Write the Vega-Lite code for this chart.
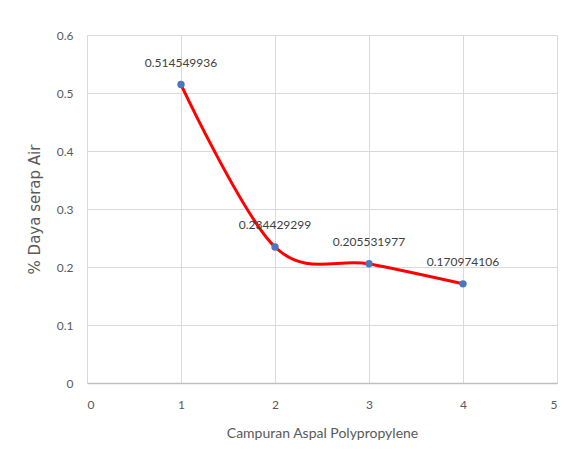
{
  "$schema": "https://vega.github.io/schema/vega-lite/v6.json",
  "autosize": "none",
  "width": 470,
  "height": 348,
  "padding": {"left": 87, "top": 35, "right": 13, "bottom": 92},
  "background": "white",
  "config": {
    "view": {"stroke": null},
    "font": "Lato",
    "axis": {"labelColor": "#595959", "titleColor": "#595959", "labelFont": "Lato", "titleFont": "Lato", "labelFontSize": 12, "gridColor": "#d9d9d9", "tickSize": 0}
  },
  "data": {"values": [
    {"x": 1, "y": 0.514549936, "label": "0.514549936"},
    {"x": 2, "y": 0.234429299, "label": "0.234429299"},
    {"x": 3, "y": 0.205531977, "label": "0.205531977"},
    {"x": 4, "y": 0.170974106, "label": "0.170974106"}
  ]},
  "encoding": {
    "x": {"field": "x", "type": "quantitative", "scale": {"domain": [0, 5], "nice": false},
      "axis": {"title": "Campuran Aspal Polypropylene", "values": [0,1,2,3,4,5], "labelPadding": 16, "titleFontSize": 14, "titleFontWeight": "normal", "titlePadding": 16, "domainColor": "#bfbfbf", "domainWidth": 1.5}},
    "y": {"field": "y", "type": "quantitative", "scale": {"domain": [0, 0.6], "nice": false},
      "axis": {"title": "% Daya serap Air", "values": [0,0.1,0.2,0.3,0.4,0.5,0.6], "format": "~g", "labelPadding": 14, "titleFontSize": 15, "titleFontWeight": "normal", "titleFont": "DejaVu Sans", "titlePadding": 14, "domain": false}}
  },
  "layer": [
    {"mark": {"type": "line", "color": "#ff0000", "strokeWidth": 3, "interpolate": "cardinal", "tension": 0}},
    {"mark": {"type": "point", "filled": true, "color": "#4a78bd", "size": 55, "opacity": 1}},
    {"mark": {"type": "text", "dy": -22, "fontSize": 12, "color": "#404040", "font": "Lato"}, "encoding": {"text": {"field": "label"}}}
  ]
}
